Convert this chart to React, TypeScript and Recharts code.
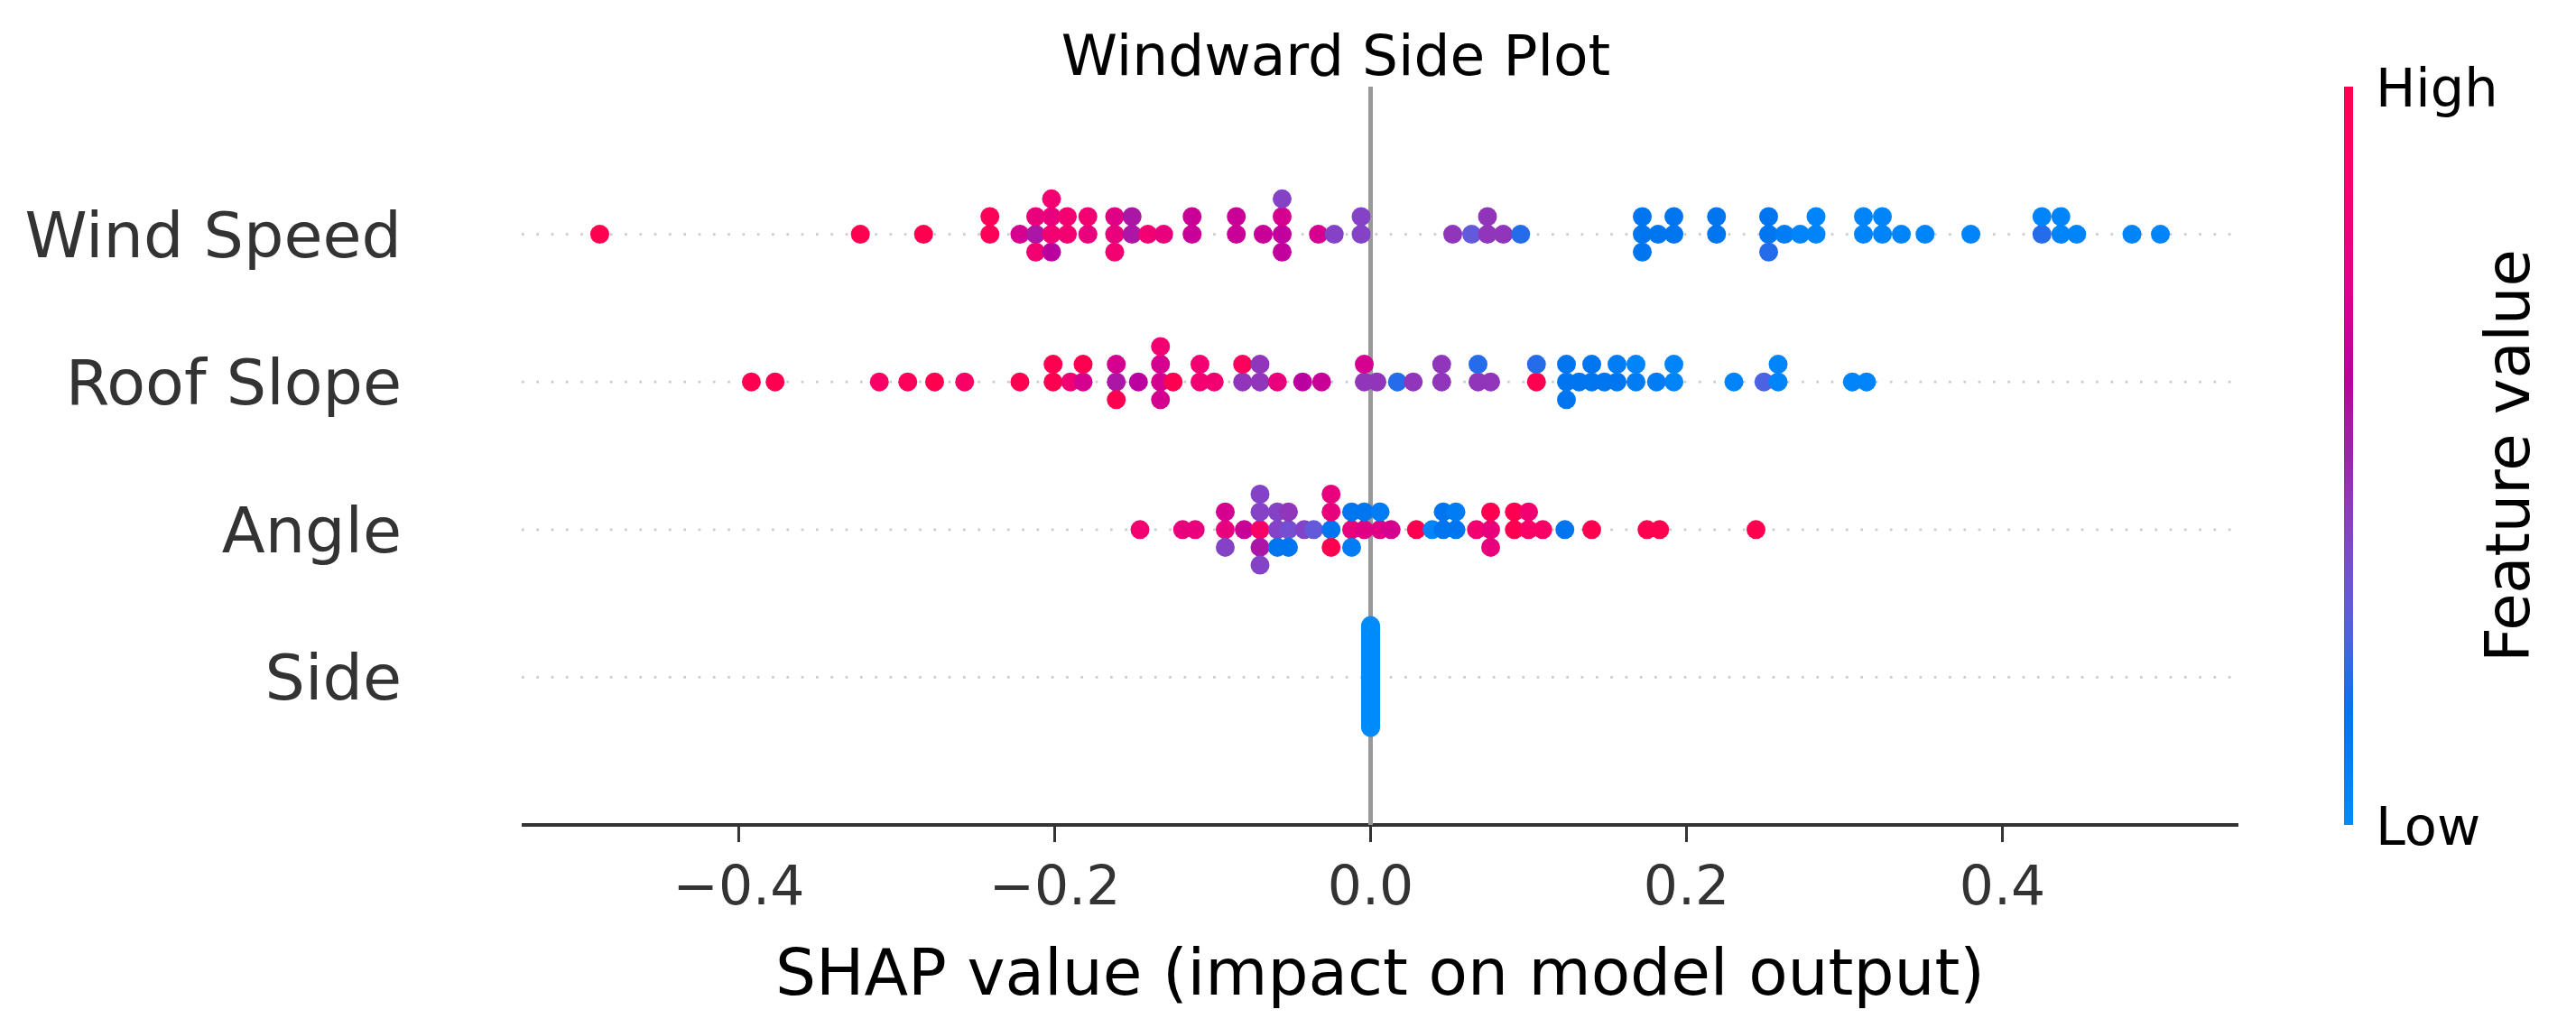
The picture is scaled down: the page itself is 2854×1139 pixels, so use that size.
import React from "react";
import { ScatterChart, Scatter, XAxis, YAxis } from "recharts";

const W = 2854;
const H = 1139;
const PLOT_L = 578;
const PLOT_R = 2480;
const PLOT_T = 96;
const PLOT_B = 914;

// rows from bottom to top
const featureNames = ["Side", "Angle", "Roof Slope", "Wind Speed"];
const xTicks = [-0.4, -0.2, 0, 0.2, 0.4];
const yTicks = [0, 1, 2, 3];

// SHAP values and (normalised) feature values
const windSpeedShap = [
  -0.488, -0.323, -0.283, -0.241, -0.241, -0.222, -0.212, -0.212, -0.212,
  -0.202, -0.202, -0.202, -0.202, -0.192, -0.192, -0.179, -0.179, -0.162,
  -0.162, -0.162, -0.151, -0.151, -0.141, -0.131, -0.113, -0.113, -0.085,
  -0.085, -0.068, -0.056, -0.056, -0.056, -0.056, -0.033, -0.023, -0.006,
  -0.006, 0.052, 0.064, 0.074, 0.074, 0.084, 0.095, 0.172, 0.172, 0.172,
  0.182, 0.192, 0.192, 0.219, 0.219, 0.252, 0.252, 0.252, 0.262, 0.272,
  0.282, 0.282, 0.312, 0.312, 0.324, 0.324, 0.336, 0.351, 0.38, 0.425,
  0.425, 0.437, 0.437, 0.447, 0.482, 0.5,
];
const windSpeedValue = [
  1, 1, 1, 0.97, 0.97, 0.7, 0.55, 0.8, 0.85,
  0.85, 0.8, 0.6, 0.85, 0.85, 0.85, 0.8, 0.85, 0.8,
  0.75, 0.85, 0.55, 0.55, 0.85, 0.8, 0.65, 0.65, 0.65,
  0.65, 0.65, 0.62, 0.7, 0.62, 0.4, 0.7, 0.4, 0.4,
  0.4, 0.45, 0.3, 0.45, 0.45, 0.45, 0.2, 0.15, 0.15, 0.15,
  0.15, 0.15, 0.15, 0.15, 0.15, 0.15, 0.15, 0.2, 0.1, 0.05,
  0.05, 0.05, 0.05, 0.05, 0.05, 0.05, 0.05, 0.05, 0.05, 0.2,
  0.05, 0.05, 0.05, 0.05, 0.05, 0.05,
];

const roofSlopeShap = [
  -0.392, -0.377, -0.311, -0.293, -0.276, -0.257, -0.222, -0.201, -0.201,
  -0.19, -0.182, -0.182, -0.161, -0.161, -0.161, -0.147, -0.133, -0.133,
  -0.133, -0.133, -0.125, -0.108, -0.108, -0.099, -0.081, -0.081, -0.07,
  -0.07, -0.059, -0.043, -0.031, -0.004, -0.004, 0.004, 0.017, 0.027,
  0.045, 0.045, 0.068, 0.068, 0.076, 0.105, 0.105, 0.124, 0.124, 0.124,
  0.132, 0.14, 0.14, 0.148, 0.156, 0.156, 0.168, 0.168, 0.181, 0.192,
  0.192, 0.23, 0.249, 0.258, 0.258, 0.305, 0.314,
];
const roofSlopeValue = [
  1, 1, 0.9, 0.95, 1, 0.9, 1, 1, 1,
  0.85, 0.7, 1, 0.55, 0.7, 1, 0.6, 0.7, 0.7,
  0.7, 0.85, 1, 0.85, 0.85, 0.85, 0.45, 0.95, 0.45,
  0.45, 0.8, 0.6, 0.65, 0.45, 0.7, 0.45, 0.2, 0.45,
  0.45, 0.45, 0.45, 0.2, 0.45, 1, 0.2, 0.15, 0.15, 0.15,
  0.15, 0.15, 0.15, 0.15, 0.15, 0.1, 0.1, 0.05, 0.1, 0.05,
  0.05, 0.05, 0.25, 0.05, 0.05, 0.05, 0.05,
];

const angleShap = [
  -0.146, -0.119, -0.111, -0.092, -0.092, -0.092, -0.08, -0.07, -0.07,
  -0.07, -0.07, -0.07, -0.059, -0.059, -0.059, -0.052, -0.052, -0.052,
  -0.042, -0.036, -0.025, -0.025, -0.025, -0.025, -0.012, -0.012, -0.012,
  -0.004, -0.004, 0.006, 0.006, 0.013, 0.029, 0.039, 0.046, 0.046, 0.054,
  0.054, 0.067, 0.076, 0.076, 0.076, 0.091, 0.091, 0.1, 0.1, 0.109, 0.123,
  0.14, 0.175, 0.183, 0.244,
];
const angleValue = [
  0.85, 0.8, 0.8, 0.8, 0.7, 0.4, 0.65, 0.9, 0.4,
  0.55, 0.4, 0.4, 0.4, 0.4, 0.15, 0.35, 0.45, 0.15,
  0.4, 0.3, 0.15, 0.8, 1, 0.8, 0.8, 0.15, 0.1,
  0.75, 0.15, 0.75, 0.1, 0.7, 1, 0.05, 0.15, 0.15, 0.15,
  0.1, 0.85, 0.8, 1, 0.8, 1, 1, 0.9, 0.85, 0.9, 0.15,
  1, 1, 1, 1,
];

const sideShap = [
  0, 0, 0, 0, 0, 0, 0, 0, 0, 0, 0, 0, 0, 0, 0, 0, 0, 0, 0, 0, 0, 0, 0, 0,
  0, 0, 0, 0, 0, 0, 0, 0, 0, 0, 0, 0, 0, 0, 0, 0, 0, 0, 0, 0, 0, 0, 0, 0,
  0, 0, 0, 0, 0, 0, 0, 0, 0, 0, 0, 0, 0, 0, 0, 0, 0, 0, 0, 0, 0, 0, 0, 0,
];
const sideValue = [
  0, 0, 0, 0, 0, 0, 0, 0, 0, 0, 0, 0, 0, 0, 0, 0, 0, 0, 0, 0, 0, 0, 0, 0,
  0, 0, 0, 0, 0, 0, 0, 0, 0, 0, 0, 0, 0, 0, 0, 0, 0, 0, 0, 0, 0, 0, 0, 0,
  0, 0, 0, 0, 0, 0, 0, 0, 0, 0, 0, 0, 0, 0, 0, 0, 0, 0, 0, 0, 0, 0, 0, 0,
];

// shap's red_blue colormap: Lch interpolation, lightness dips to 40 mid-way
function lchToHex(l: number, c: number, h: number) {
  const a = c * Math.cos(h);
  const b = c * Math.sin(h);
  const fy = (l + 16) / 116;
  const fx = fy + a / 500;
  const fz = fy - b / 200;
  const finv = (t: number) => (t > 6 / 29 ? t * t * t : 3 * (6 / 29) ** 2 * (t - 4 / 29));
  const X = 0.95047 * finv(fx);
  const Y = finv(fy);
  const Z = 1.08883 * finv(fz);
  const lin = [
    3.2406 * X - 1.5372 * Y - 0.4986 * Z,
    -0.9689 * X + 1.8758 * Y + 0.0415 * Z,
    0.0557 * X - 0.204 * Y + 1.057 * Z,
  ];
  return (
    "#" +
    lin
      .map((v) => {
        const g = v <= 0.0031308 ? 12.92 * v : 1.055 * Math.pow(v, 1 / 2.4) - 0.055;
        const n = Math.round(Math.min(1, Math.max(0, g)) * 255);
        return n.toString(16).padStart(2, "0");
      })
      .join("")
  );
}

function featureColor(t: number) {
  const l = t < 0.5 ? 54 - 14 * (t / 0.5) : 40 + 14 * ((t - 0.5) / 0.5);
  const c = 70 + 20 * t;
  const h = 4.6588 + (0.35470565 + 2 * Math.PI - 4.6588) * t;
  return lchToHex(l, c, h);
}

// beeswarm offsets the way shap does it: 100 bins, alternate up / down
function swarm(xs: number[]) {
  const min = Math.min(...xs);
  const max = Math.max(...xs);
  const quant = xs.map((x) => Math.round((100 * (x - min)) / (max - min + 1e-8)));
  const order = xs.map((_, i) => i).sort((a, b) => quant[a] - quant[b] || a - b);
  const ys = new Array(xs.length).fill(0);
  let layer = 0;
  let last = -1;
  for (const i of order) {
    if (quant[i] !== last) layer = 0;
    ys[i] = Math.ceil(layer / 2) * ((layer % 2) * 2 - 1);
    layer += 1;
    last = quant[i];
  }
  const m = Math.max(...ys.map((y) => y + 1));
  return ys.map((y) => y * 0.9 * (0.4 / m));
}

const rows = [
  { shap: sideShap, value: sideValue },
  { shap: angleShap, value: angleValue },
  { shap: roofSlopeShap, value: roofSlopeValue },
  { shap: windSpeedShap, value: windSpeedValue },
];

const series = rows.map((r, pos) => {
  const ys = swarm(r.shap);
  return r.shap.map((x, i) => ({ x, y: pos + ys[i], fill: featureColor(r.value[i]) }));
});

const allX = rows.flatMap((r) => r.shap);
const xMin = Math.min(...allX);
const xMax = Math.max(...allX);
const pad = (xMax - xMin) * 0.05;
const xDomain = [xMin - pad, xMax + pad];

// dotted guide line across each feature row, and the solid zero line
const rowGuides = yTicks.map((t) => [
  { x: xDomain[0], y: t },
  { x: xDomain[1], y: t },
]);
const zeroLine = [
  { x: 0, y: -1 },
  { x: 0, y: 4 },
];

const fmt = (v: number) => (v < 0 ? "\u2212" : "") + Math.abs(v).toFixed(1);

const XTick = (props: any) => {
  const { x, payload } = props;
  return (
    <text x={x} y={PLOT_B + 88} textAnchor="middle" fontSize={60} fill="#333333" fontFamily="DejaVu Sans">
      {fmt(payload.value)}
    </text>
  );
};

const YTick = (props: any) => {
  const { y, payload } = props;
  return (
    <text x={445} y={y + 25} textAnchor="end" fontSize={70} fill="#333333" fontFamily="DejaVu Sans">
      {featureNames[payload.value]}
    </text>
  );
};

const Dot = (props: any) => (
  <circle cx={props.cx} cy={props.cy} r={10.5} fill={props.payload?.fill ?? props.fill} />
);

const NoDot = () => <g />;

const gradientStops = Array.from({ length: 21 }, (_, i) => i / 20);

export default function App() {
  return (
    <div style={{ position: "absolute", left: 0, top: 0, width: W, height: H, background: "#fff" }}>
      <ScatterChart
        width={W}
        height={H}
        margin={{ top: PLOT_T, right: W - PLOT_R, bottom: 45, left: 18 }}
      >
        <XAxis
          type="number"
          dataKey="x"
          domain={xDomain}
          ticks={xTicks}
          interval={0}
          height={H - 45 - PLOT_B}
          tick={<XTick />}
          tickSize={19}
          tickLine={{ stroke: "#333333", strokeWidth: 3 }}
          axisLine={{ stroke: "#333333", strokeWidth: 4 }}
        />
        <YAxis
          type="number"
          dataKey="y"
          domain={[-1, 4]}
          ticks={yTicks}
          interval={0}
          width={PLOT_L - 18}
          allowDataOverflow
          axisLine={false}
          tickLine={false}
          tick={<YTick />}
        />
        {rowGuides.map((d, i) => (
          <Scatter
            key={`g${i}`}
            data={d}
            line={{ stroke: "#cccccc", strokeWidth: 2.7, strokeDasharray: "2.7 13.6" }}
            shape={<NoDot />}
            isAnimationActive={false}
          />
        ))}
        <Scatter
          data={zeroLine}
          line={{ stroke: "#999999", strokeWidth: 5 }}
          shape={<NoDot />}
          isAnimationActive={false}
        />
        {series.map((d, i) => (
          <Scatter key={i} data={d} shape={<Dot />} isAnimationActive={false} />
        ))}
      </ScatterChart>
      <svg
        width={W}
        height={H}
        style={{ position: "absolute", left: 0, top: 0, pointerEvents: "none" }}
        fontFamily="DejaVu Sans"
      >
        <defs>
          <linearGradient id="cbar" x1="0" y1="1" x2="0" y2="0">
            {gradientStops.map((t) => (
              <stop key={t} offset={t} stopColor={featureColor(t)} />
            ))}
          </linearGradient>
        </defs>
        <text x={1480} y={83} textAnchor="middle" fontSize={63} fill="#000">
          Windward Side Plot
        </text>
        <text x={(PLOT_L + PLOT_R) / 2} y={1102} textAnchor="middle" fontSize={71} fill="#000">
          SHAP value (impact on model output)
        </text>
        <rect x={2597} y={PLOT_T} width={10} height={PLOT_B - PLOT_T} fill="url(#cbar)" />
        <text x={2632} y={PLOT_T + 22} fontSize={59} fill="#000">
          High
        </text>
        <text x={2632} y={PLOT_B + 22} fontSize={59} fill="#000">
          Low
        </text>
        <text
          transform={`translate(2802, ${(PLOT_T + PLOT_B) / 2}) rotate(-90)`}
          textAnchor="middle"
          fontSize={67}
          fill="#000"
        >
          Feature value
        </text>
      </svg>
    </div>
  );
}
